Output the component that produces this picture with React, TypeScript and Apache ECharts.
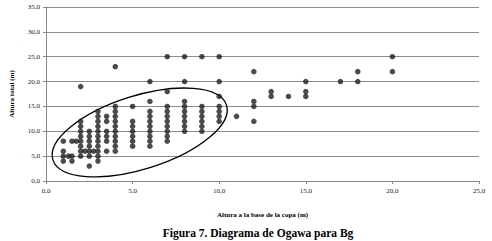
import React, { useEffect, useRef } from "react";
import * as echarts from "echarts";

// x positions of the columns of points (m)
const xColumns = [1, 1.3, 1.5, 1.75, 2, 2.25, 2.5, 2.75, 3, 3.5, 4, 5, 6, 7, 8, 9, 10, 11, 12, 13, 14, 15, 17, 18, 20];
// heights observed at each column (m)
const yColumns = [
  [4, 5, 6, 8],
  [5],
  [4, 5, 8],
  [8],
  [5, 6, 7, 8, 9, 10, 11, 12, 19],
  [6],
  [3, 5, 6, 7, 8, 9, 10],
  [6],
  [4, 5, 6, 7, 8, 9, 10, 11, 12, 13, 14],
  [6, 8, 9, 10, 12, 13],
  [6, 7, 8, 9, 10, 11, 12, 13, 14, 15, 23],
  [7, 8, 9, 10, 11, 12, 15],
  [7, 8, 9, 10, 11, 12, 13, 14, 16, 20],
  [8, 9, 10, 11, 12, 13, 14, 15, 18, 25],
  [10, 11, 12, 13, 14, 15, 16, 20, 25],
  [10, 11, 12, 13, 14, 15, 25],
  [12, 13, 14, 15, 17, 20, 25],
  [13],
  [12, 15, 16, 22],
  [17, 18],
  [17],
  [17, 18, 20],
  [20],
  [20, 22],
  [22, 25],
];
const xTicks = [0, 5, 10, 15, 20, 25];
const yTicks = [0, 5, 10, 15, 20, 25, 30, 35];
// centre of the highlighted cluster (data units)
const ellipseCenter = [5.41, 9.76];

const fmt = (v: number) => v.toFixed(1).replace(".", ",");

export default function App() {
  const ref = useRef<HTMLDivElement>(null);
  useEffect(() => {
    if (!ref.current) return;
    const chart = echarts.init(ref.current, null, { renderer: "svg" });
    const points: number[][] = [];
    xColumns.forEach((x, i) => yColumns[i].forEach((y) => points.push([x, y])));
    const serif = "'Liberation Serif', 'Times New Roman', serif";
    chart.setOption({
      animation: false,
      backgroundColor: "#fff",
      textStyle: { fontFamily: serif },
      title: {
        text: "Figura 7. Diagrama de Ogawa para Bg",
        left: 253,
        textAlign: "center",
        top: 222,
        textStyle: { fontFamily: serif, fontSize: 11.5, fontWeight: "bold", color: "#000" },
      },
      grid: { left: 40, right: 13, top: 7, bottom: 60 },
      xAxis: {
        type: "value",
        min: xTicks[0],
        max: xTicks[xTicks.length - 1],
        interval: 5,
        name: "Altura a la base de la copa (m)",
        nameLocation: "middle",
        nameGap: 30,
        nameTextStyle: { fontFamily: serif, fontSize: 7, fontWeight: "bold", color: "#000" },
        axisLine: { show: true, lineStyle: { color: "#888", width: 1 } },
        axisTick: { show: true, length: 3, lineStyle: { color: "#888" } },
        splitLine: { show: false },
        axisLabel: { formatter: fmt, fontSize: 7, color: "#222", margin: 6, fontFamily: serif },
      },
      yAxis: {
        type: "value",
        min: yTicks[0],
        max: yTicks[yTicks.length - 1],
        interval: 5,
        name: "Altura total (m)",
        nameLocation: "middle",
        nameRotate: 90,
        nameGap: 31,
        nameTextStyle: { fontFamily: serif, fontSize: 7, fontWeight: "bold", color: "#000" },
        axisLine: { show: true, lineStyle: { color: "#888", width: 1 } },
        axisTick: { show: true, length: 3, lineStyle: { color: "#888" } },
        splitLine: { show: true, lineStyle: { color: "#8c8c8c", width: 1 } },
        axisLabel: { formatter: fmt, fontSize: 7, color: "#222", margin: 6, fontFamily: serif },
      },
      series: [
        {
          type: "scatter",
          data: points,
          symbol: "circle",
          symbolSize: 5.5,
          itemStyle: { color: "#1e1e1e" },
        },
        {
          type: "custom",
          data: [ellipseCenter],
          clip: false,
          silent: true,
          renderItem: (params: any, api: any) => {
            const c = api.coord([api.value(0), api.value(1)]);
            return {
              type: "ellipse",
              shape: { cx: 0, cy: 0, rx: 91, ry: 36.7 },
              x: c[0],
              y: c[1],
              rotation: 0.306,
              style: { fill: "none", stroke: "#000", lineWidth: 1.3 },
            };
          },
        },
      ],
    });
    return () => chart.dispose();
  }, []);
  return (
    <div
      ref={ref}
      style={{ position: "fixed", left: 0, top: 0, width: 492, height: 241, background: "#fff" }}
    />
  );
}
